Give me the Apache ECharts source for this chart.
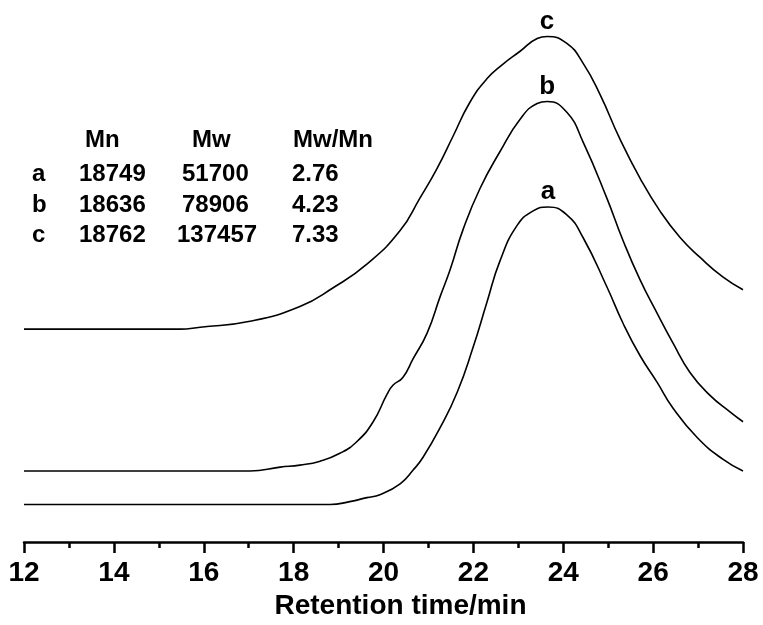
<!DOCTYPE html>
<html>
<head>
<meta charset="utf-8">
<script src="https://cdn.jsdelivr.net/npm/echarts@6/dist/echarts.min.js"></script>
<style>
html,body{margin:0;padding:0;background:#fff;}
#chart{width:763px;height:625px;}
</style>
</head>
<body>
<div id="chart"></div>
<script>
// ---- data (retention time in min, detector signal in arbitrary units) ----
var timeA = [12.00, 18.81, 19.25, 19.63, 19.92, 20.37, 20.66, 20.88, 21.26, 21.64, 21.99, 22.30, 22.59, 22.97, 23.33, 23.66, 24.08, 24.44, 24.97, 25.33, 25.71, 26.09, 26.44, 26.98, 27.55, 28.00];
var signalA = [3.8, 3.8, 4.1, 4.5, 4.8, 5.9, 7.3, 8.6, 11.6, 15.2, 19.7, 24.3, 28.5, 32.1, 33.6, 34.0, 33.2, 30.9, 25.9, 22.2, 18.9, 16.2, 13.6, 10.6, 8.4, 7.2];

var timeB = [12.00, 17.03, 17.70, 18.14, 18.59, 19.03, 19.41, 19.77, 20.08, 20.21, 20.43, 20.66, 20.97, 21.26, 21.48, 21.77, 22.15, 22.59, 23.04, 23.42, 23.64, 24.08, 24.44, 24.97, 25.33, 25.71, 26.09, 26.44, 26.82, 27.26, 27.71, 28.00];
var signalB = [7.2, 7.2, 7.6, 7.8, 8.2, 9.0, 10.2, 12.2, 15.0, 15.9, 16.7, 18.6, 21.2, 24.9, 27.6, 31.7, 35.9, 39.6, 42.9, 44.5, 44.7, 43.6, 40.6, 34.9, 30.6, 26.6, 23.2, 20.2, 17.2, 14.9, 13.2, 12.2];

var timeC = [12.00, 13.69, 15.47, 15.92, 17.03, 18.14, 18.88, 19.63, 20.37, 20.81, 21.19, 21.55, 21.92, 22.30, 22.66, 23.04, 23.42, 23.64, 24.08, 24.44, 24.82, 25.26, 25.71, 26.15, 26.60, 27.04, 27.55, 28.00];
var signalC = [21.6, 21.6, 21.6, 21.8, 22.4, 23.9, 25.8, 28.2, 31.6, 34.9, 37.9, 41.2, 44.6, 47.0, 48.5, 49.8, 51.1, 51.3, 50.6, 48.6, 45.4, 40.9, 36.9, 33.6, 30.9, 28.9, 26.9, 25.6];

var curveNames = ['a', 'b', 'c'];

// table text
var tableHeader = ['Mn', 'Mw', 'Mw/Mn'];
var sampleNames = ['a', 'b', 'c'];
var mnValues = ['18749', '18636', '18762'];
var mwValues = ['51700', '78906', '137457'];
var pdiValues = ['2.76', '4.23', '7.33'];

var xTicks = [12, 14, 16, 18, 20, 22, 24, 26, 28];
var axisTitle = 'Retention time/min';

// ---- layout ----
var FONT = "'Liberation Sans', Arial, Helvetica, sans-serif";
function pairs(t, v) { return t.map(function (x, i) { return [x, v[i]]; }); }

function curve(name, t, v) {
  return {
    name: name,
    type: 'line',
    data: pairs(t, v),
    smooth: 0.5,
    showSymbol: false,
    symbol: 'none',
    lineStyle: { color: '#000', width: 1.6 },
    markPoint: {
      symbol: 'circle',
      symbolSize: 0,
      data: [{ type: 'max', name: name }],
      label: {
        show: true,
        position: 'top',
        distance: 2,
        formatter: name,
        color: '#000',
        fontFamily: FONT,
        fontWeight: 'bold',
        fontSize: 26
      }
    }
  };
}

var colX = { name: 32, mn: 79, mw: 182, pdi: 292 };
var headerX = [85, 192, 293];
var headerY = 141;
var rowY = [175, 206, 236];
var tStyle = { fill: '#000', font: 'bold 24px ' + FONT };

var graphics = [];
tableHeader.forEach(function (h, i) {
  graphics.push({ type: 'text', left: headerX[i], top: headerY - 13, style: Object.assign({ text: h }, tStyle) });
});
sampleNames.forEach(function (s, i) {
  var y = rowY[i] - 13;
  graphics.push({ type: 'text', left: colX.name, top: y, style: Object.assign({ text: s }, tStyle) });
  graphics.push({ type: 'text', left: colX.mn, top: y, style: Object.assign({ text: mnValues[i] }, tStyle) });
  graphics.push({ type: 'text', left: colX.mw + (mwValues[i].length === 6 ? -5 : 0), top: y, style: Object.assign({ text: mwValues[i] }, tStyle) });
  graphics.push({ type: 'text', left: colX.pdi, top: y, style: Object.assign({ text: pdiValues[i] }, tStyle) });
});

var chart = echarts.init(document.getElementById('chart'), null, { renderer: 'canvas' });
chart.setOption({
  backgroundColor: '#fff',
  animation: false,
  grid: { left: 24, right: 20, top: 0, bottom: 75, containLabel: false },
  xAxis: {
    type: 'value',
    min: 12,
    max: 28,
    interval: 2,
    name: axisTitle,
    nameLocation: 'middle',
    nameGap: 50,
    nameTextStyle: { color: '#000', fontFamily: FONT, fontWeight: 'bold', fontSize: 28, padding: [0, 0, 0, 34] },
    axisLine: { show: true, lineStyle: { color: '#000', width: 2.5 } },
    axisTick: { show: true, inside: false, length: 11, lineStyle: { color: '#000', width: 2.5 } },
    minorTick: { show: true, splitNumber: 2, length: 6, lineStyle: { color: '#000', width: 2.5 } },
    splitLine: { show: false },
    minorSplitLine: { show: false },
    axisLabel: {
      color: '#000',
      fontFamily: FONT,
      fontWeight: 'bold',
      fontSize: 28,
      margin: 17,
      formatter: function (v) { return xTicks.indexOf(v) >= 0 ? String(v) : ''; }
    }
  },
  yAxis: {
    type: 'value',
    min: 0,
    max: 55,
    show: false,
    splitLine: { show: false }
  },
  series: [
    curve(curveNames[0], timeA, signalA),
    curve(curveNames[1], timeB, signalB),
    curve(curveNames[2], timeC, signalC)
  ],
  graphic: graphics
});
</script>
</body>
</html>
